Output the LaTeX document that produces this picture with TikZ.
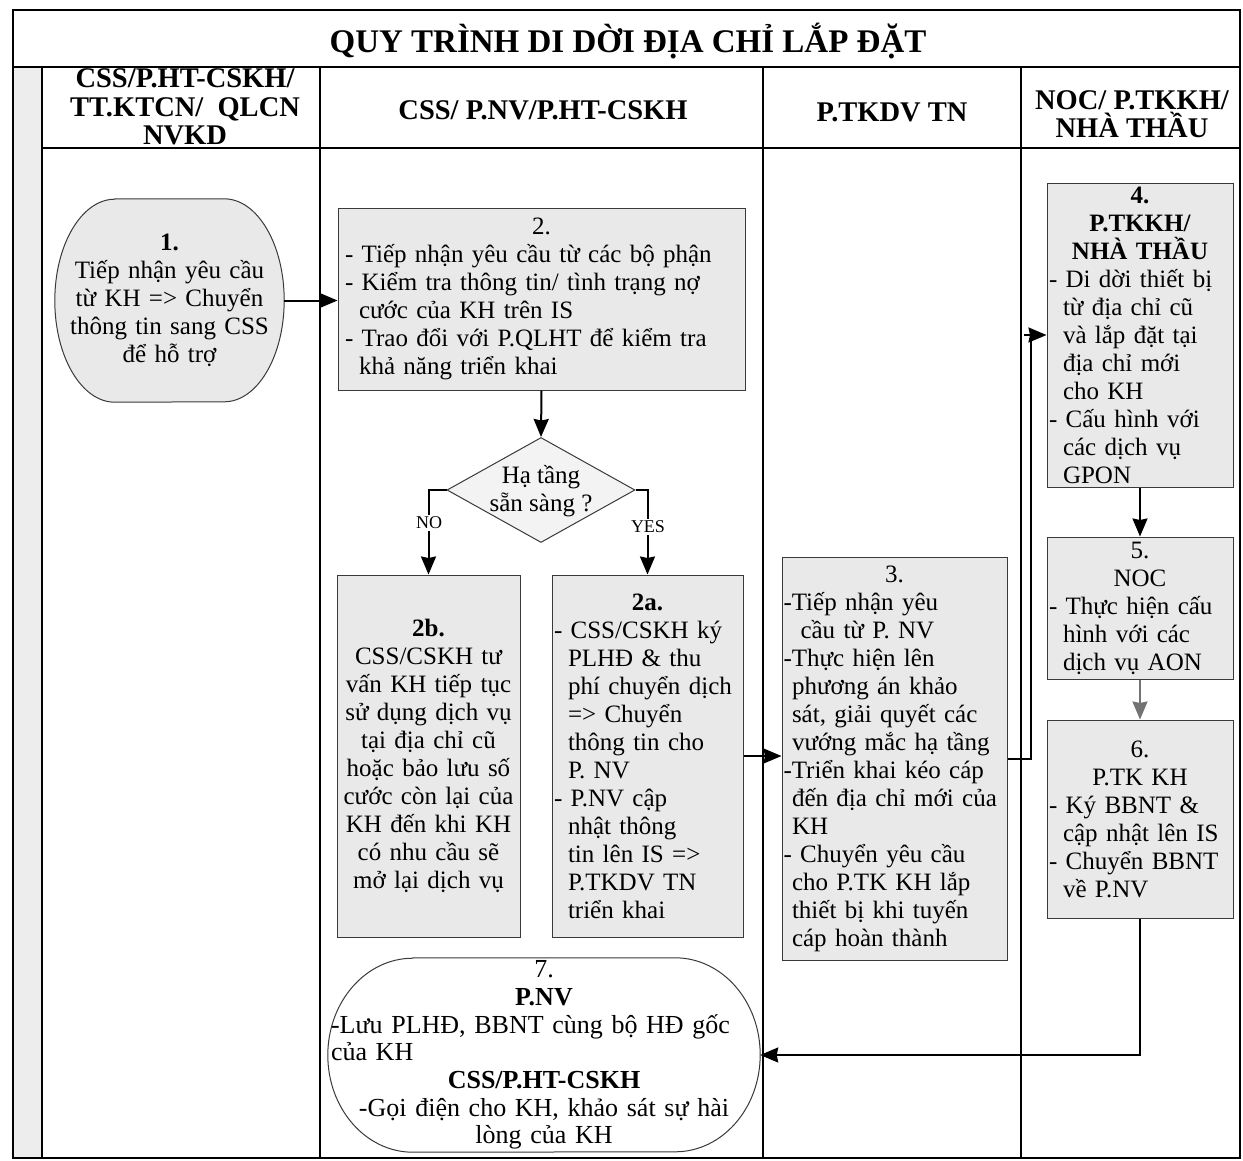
\documentclass[tikz,border=0pt]{standalone}
\usepackage{fontspec}
\setmainfont{Liberation Serif}
\usetikzlibrary{shapes.geometric,arrows.meta,backgrounds}
\definecolor{boxfill}{HTML}{E9E9E9}
\definecolor{stripfill}{HTML}{EDEDED}
\definecolor{edge}{HTML}{3A3A3A}
\newcommand{\midln}[1]{\makebox[\linewidth]{#1}}
\newcommand{\ind}{\hspace*{14pt}}
\newcommand{\indd}{\hspace*{8.5pt}}

\begin{document}
\begin{tikzpicture}[x=1pt,y=-1pt,
  frame/.style={line width=1.6pt, black},
  body/.style={font=\fontsize{25}{28}\selectfont},
  hdr/.style={font=\fontsize{28.5}{28.5}\selectfont\bfseries, align=center, inner sep=0pt},
  box/.style={draw=edge, line width=1pt, fill=boxfill, inner ysep=0pt, inner xsep=1pt, body, align=left},
  plain/.style={inner sep=0pt, body},
  conn/.style={line width=2pt},
  arr/.style={conn, -{Stealth[length=18pt,width=15pt,inset=1.5pt]}},
  lbl/.style={font=\fontsize{18}{20}\selectfont, fill=white, inner sep=1.5pt},
  termline/.style={draw=edge, line width=1pt},
]
\useasboundingbox (0,0) rectangle (1243,1160);
\begin{scope}[on background layer]
  \fill[white] (0,0) rectangle (1243,1160);
\end{scope}

% swimlane frame
\fill[stripfill] (13,67) rectangle (42,1158);
\draw[line width=1.4pt] (13,10) rectangle (1240,1158);
\draw[line width=2pt] (13,67) -- (1240,67);
\draw[line width=2pt] (42,67) -- (42,1158);
\draw[frame] (42,148) -- (1240,148);
\draw[frame] (320,67) -- (320,1158);
\draw[frame] (763,67) -- (763,1158);
\draw[frame] (1021,67) -- (1021,1158);

% title and lane headers
\node[font=\fontsize{33}{36}\selectfont\bfseries, inner sep=0pt] (title) at (628,41) {QUY TRÌNH DI DỜI ĐỊA CHỈ LẮP ĐẶT};
\node[hdr] (h1) at (185,107) {CSS/P.HT-CSKH/\\TT.KTCN/\ \ QLCN\\NVKD};
\node[hdr] (h2) at (543,110) {CSS/ P.NV/P.HT-CSKH};
\node[hdr] (h3) at (892,112) {P.TKDV TN};
\node[hdr] (h4) at (1132,114) {NOC/ P.TKKH/\\NHÀ THẦU};

% step 1 (terminator)
\node[plain, minimum width=229pt, minimum height=203pt, text width=220pt, align=center] (n1) at (169.5,300.5)
  {\textbf{1.}\\Tiếp nhận yêu cầu\\từ KH => Chuyển\\thông tin sang CSS\\để hỗ trợ};
\begin{scope}[on background layer]
  \path[termline, fill=boxfill] ([xshift=60pt]n1.north west) -- ([xshift=-60pt]n1.north east)
    arc[start angle=90, end angle=-90, x radius=60pt, y radius=101.5pt]
    -- ([xshift=60pt]n1.south west)
    arc[start angle=270, end angle=90, x radius=60pt, y radius=101.5pt] -- cycle;
\end{scope}

% step 2
\node[box, minimum width=407pt, minimum height=182pt, text width=393pt] (n2) at (541.5,299)
  {\midln{2.}\\
   - Tiếp nhận yêu cầu từ các bộ phận\\
   - Kiểm tra thông tin/ tình trạng nợ\\
   \ind cước của KH trên IS\\
   - Trao đổi với P.QLHT để kiểm tra\\
   \ind khả năng triển khai};

% decision
\node[diamond, draw=edge, line width=1pt, fill=boxfill!55, minimum width=188pt, minimum height=105pt, inner sep=0pt] (d) at (541,490) {};
\node[plain, align=center] (dtext) at (541,491) {Hạ tầng\\sẵn sàng ?};

% step 2b
\node[box, minimum width=183pt, minimum height=362pt, text width=181pt, align=center] (n2b) at (428.5,756)
  {\textbf{2b.}\\CSS/CSKH tư\\vấn KH tiếp tục\\sử dụng dịch vụ\\tại địa chỉ cũ\\hoặc bảo lưu số\\cước còn lại của\\KH đến khi KH\\có nhu cầu sẽ\\mở lại dịch vụ};

% step 2a
\node[box, minimum width=191pt, minimum height=362pt, text width=187pt] (n2a) at (647.5,756)
  {\midln{\textbf{2a.}}\\
   - CSS/CSKH ký\\
   \ind PLHĐ \& thu\\
   \ind phí chuyển dịch\\
   \ind => Chuyển\\
   \ind thông tin cho\\
   \ind P. NV\\
   - P.NV cập\\
   \ind nhật thông\\
   \ind tin lên IS =>\\
   \ind P.TKDV TN\\
   \ind triển khai};

% step 3
\node[box, minimum width=225pt, minimum height=403pt, text width=222pt] (n3) at (894.5,758.5)
  {\midln{3.}\\
   -Tiếp nhận yêu\\
   \hspace*{17pt}cầu từ P. NV\\
   -Thực hiện lên\\
   \indd phương án khảo\\
   \indd sát, giải quyết các\\
   \indd vướng mắc hạ tầng\\
   -Triển khai kéo cáp\\
   \indd đến địa chỉ mới của\\
   \indd KH\\
   - Chuyển yêu cầu\\
   \indd cho P.TK KH lắp\\
   \indd thiết bị khi tuyến\\
   \indd cáp hoàn thành};

% step 4
\node[box, minimum width=186pt, minimum height=304pt, text width=182pt] (n4) at (1140,335)
  {\midln{\textbf{4.}}\\
   \midln{\textbf{P.TKKH/}}\\
   \midln{\textbf{NHÀ THẦU}}\\
   - Di dời thiết bị\\
   \ind từ địa chỉ cũ\\
   \ind và lắp đặt tại\\
   \ind địa chỉ mới\\
   \ind cho KH\\
   - Cấu hình với\\
   \ind các dịch vụ\\
   \ind GPON};

% step 5
\node[box, minimum width=186pt, minimum height=142pt, text width=182pt] (n5) at (1140,608)
  {\midln{5.}\\
   \midln{NOC}\\
   - Thực hiện cấu\\
   \ind hình với các\\
   \ind dịch vụ AON};

% step 6
\node[box, minimum width=186pt, minimum height=198pt, text width=182pt] (n6) at (1140,819)
  {\midln{6.}\\
   \midln{P.TK KH}\\
   - Ký BBNT \&\\
   \ind cập nhật lên IS\\
   - Chuyển BBNT\\
   \ind về P.NV};

% step 7 (terminator)
\node[plain, minimum width=432pt, minimum height=194pt, text width=426pt, align=left, font=\fontsize{26}{27.7}\selectfont] (n7) at (544,1055)
  {\midln{7.}\\
   \midln{\textbf{P.NV}}\\
   -Lưu PLHĐ, BBNT cùng bộ HĐ gốc\\
   của KH\\
   \midln{\textbf{CSS/P.HT-CSKH}}\\
   \midln{-Gọi điện cho KH, khảo sát sự hài}\\
   \midln{lòng của KH}};
\begin{scope}[on background layer]
  \path[termline, fill=white] ([xshift=85pt]n7.north west) -- ([xshift=-85pt]n7.north east)
    arc[start angle=90, end angle=-90, x radius=85pt, y radius=97pt]
    -- ([xshift=85pt]n7.south west)
    arc[start angle=270, end angle=90, x radius=85pt, y radius=97pt] -- cycle;
\end{scope}

% connectors
\draw[arr] (n1.east) -- (n1.east -| n2.west);
\draw[arr] (n2.south) -- (d.north);
\draw[arr] (d.west) -| (n2b.north);
\draw[arr] (d.east) -| (n2a.north);
\node[lbl] (nolbl) at (429,523) {NO};
\node[lbl] (yeslbl) at (648,527) {YES};
\draw[arr] (n2a.east) -- (n2a.east -| n3.west);
% step 3 to step 4: riser along the lane edge, then a short arrow into the box
\coordinate (riseTop) at (1031,335);
\coordinate (headStart) at (1024,335);
\draw[conn] (n3.east) -| (riseTop);
\draw[arr] (headStart) -- (n4.west);
\draw[arr] (n4.south) -- (n5.north);
\draw[arr, draw=black!55, fill=black!55] (n5.south) -- (n6.north);
\draw[arr] (n6.south) |- (n7.east);
\end{tikzpicture}
\end{document}
